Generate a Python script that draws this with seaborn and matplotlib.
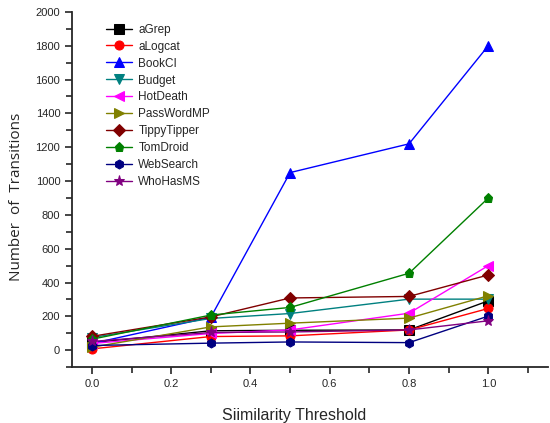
import matplotlib
matplotlib.use("Agg")
import matplotlib.pyplot as plt
from matplotlib.ticker import MultipleLocator
import numpy as np
import pandas as pd
import seaborn as sns

thresholds = [0.0, 0.3, 0.5, 0.8, 1.0]

apps = ["aGrep", "aLogcat", "BookCI", "Budget", "HotDeath",
        "PassWordMP", "TippyTipper", "TomDroid", "WebSearch", "WhoHasMS"]

aGrep = [45, 115, 118, 120, 292]
aLogcat = [8, 81, 85, 120, 247]
BookCI = [40, 195, 1050, 1220, 1800]
Budget = [75, 188, 217, 302, 302]
HotDeath = [40, 99, 120, 219, 500]
PassWordMP = [18, 138, 160, 190, 322]
TippyTipper = [82, 197, 309, 318, 445]
TomDroid = [65, 208, 253, 455, 900]
WebSearch = [28, 42, 49, 45, 202]
WhoHasMS = [52, 105, 108, 120, 174]

series = [aGrep, aLogcat, BookCI, Budget, HotDeath,
          PassWordMP, TippyTipper, TomDroid, WebSearch, WhoHasMS]

colors = ["#000000", "#ff0000", "#0000ff", "#008080", "#ff00ff",
          "#808000", "#800000", "#008000", "#000080", "#800080"]
markers = ["s", "o", "^", "v", "<", ">", "D", "p", "h", "*"]

rows = []
for app, vals in zip(apps, series):
    for t, v in zip(thresholds, vals):
        rows.append({"threshold": t, "transitions": v, "app": app})
df = pd.DataFrame(rows)

sns.set_style("ticks")
plt.rcParams["font.family"] = ["Liberation Sans", "DejaVu Sans"]

fig = plt.figure(figsize=(5.5, 4.23), dpi=100)
ax = fig.add_axes([0.131, 0.132, 0.865, 0.84])

for app, color, mk in zip(apps, colors, markers):
    sub = df[df["app"] == app]
    ms = 8 if mk == "*" else 6.5
    sns.lineplot(data=sub, x="threshold", y="transitions", ax=ax,
                 color=color, marker=mk, markersize=ms, linewidth=1.0,
                 markeredgecolor=color, label=app)

ax.set_xlim(-0.05, 1.15)
ax.set_ylim(-100, 2000)
ax.xaxis.set_major_locator(MultipleLocator(0.2))
ax.xaxis.set_minor_locator(MultipleLocator(0.1))
ax.yaxis.set_major_locator(MultipleLocator(200))
ax.yaxis.set_minor_locator(MultipleLocator(100))
ax.set_xticks([0.0, 0.2, 0.4, 0.6, 0.8, 1.0])
ax.set_xticklabels(["0.0", "0.2", "0.4", "0.6", "0.8", "1.0"])
ax.tick_params(axis="both", which="major", direction="out", length=5, width=1.2, labelsize=8)
ax.tick_params(axis="both", which="minor", direction="out", length=4, width=1.2)

for s in ["top", "right"]:
    ax.spines[s].set_visible(False)
for s in ["left", "bottom"]:
    ax.spines[s].set_linewidth(1.3)

ax.set_xlabel("Siimilarity Threshold", fontsize=11.5)
ax.xaxis.set_label_coords(0.466, -0.115)
ax.set_ylabel("Number  of  Transitions", fontsize=11, family=["Open Sans", "DejaVu Sans"])
ax.yaxis.set_label_coords(-0.1, 0.48)

leg = ax.legend(loc="upper left", bbox_to_anchor=(0.055, 0.99), frameon=False,
                fontsize=8.5, handlelength=2.2, handletextpad=0.5,
                labelspacing=0.42, borderaxespad=0.3)

fig.savefig("out.png", dpi=100)
